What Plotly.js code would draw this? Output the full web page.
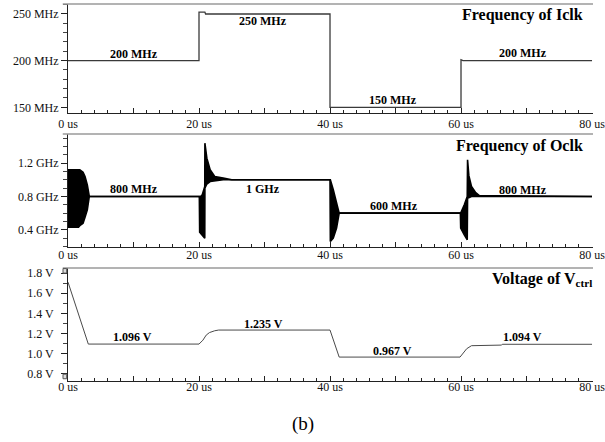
<!DOCTYPE html>
<html>
<head>
<meta charset="utf-8">
<script src="https://cdn.plot.ly/plotly-3.0.1.min.js"></script>
<style>html,body{margin:0;padding:0;background:#fff;}#chart{width:605px;height:442px;}</style>
</head>
<body>
<div id="chart"></div>
<script>
// ---- Panel 1: Frequency of Iclk (MHz) ----
const tIclk = [0, 20, 20, 20.9, 21, 40, 40, 60, 60, 60.3, 80];
const fIclk = [200, 200, 252, 252, 250, 250, 150, 150, 201, 200, 200];

// ---- Panel 2: Frequency of Oclk (GHz), oscillation envelope ----
const tOclk = [0, 1.6, 1.8, 2.3, 2.6, 2.95, 3.25, 20.05, 20.1, 20.5, 20.88, 20.9, 21.2, 21.7, 22.4, 23.7, 25,
               40.0, 40.05, 40.5, 41.0, 41.4, 59.9, 59.95, 60.5, 60.95, 61.0, 61.2, 61.6, 62.2, 62.8, 80];
const fOclkUpper = [1.12, 1.12, 1.12, 1.09, 1.04, 0.94, 0.80, 0.80, 0.79, 0.82, 0.92, 1.44, 1.26, 1.12, 1.04, 1.02, 1.00,
                    1.00, 1.00, 0.88, 0.74, 0.60, 0.60, 0.60, 0.70, 0.80, 1.24, 1.05, 0.92, 0.85, 0.81, 0.80];
const fOclkLower = [0.43, 0.43, 0.45, 0.48, 0.55, 0.64, 0.80, 0.80, 0.37, 0.34, 0.30, 0.90, 0.95, 0.98, 0.99, 1.00, 1.00,
                    1.00, 0.26, 0.30, 0.42, 0.60, 0.60, 0.42, 0.34, 0.28, 0.78, 0.79, 0.80, 0.80, 0.80, 0.80];

// ---- Panel 3: Voltage of Vctrl (V) ----
const tVctrl = [0, 3.1, 20.0, 20.6, 21.1, 21.6, 22.4, 23.0, 40.0, 41.4, 59.85, 60.35, 60.87, 61.6, 66.2, 66.3, 80];
const vVctrl = [1.71, 1.096, 1.096, 1.135, 1.185, 1.21, 1.228, 1.235, 1.235, 0.967, 0.967, 1.01, 1.05, 1.08, 1.086, 1.094, 1.094];

// ---- Tick labels ----
const xTickVals = [0, 10, 20, 30, 40, 50, 60, 70, 80];
const xTickText = ['0 us', ' ', '20 us', ' ', '40 us', ' ', '60 us', ' ', '80 us'];
const y1TickVals = [150, 200, 250];
const y1TickText = ['150 MHz', '200 MHz', '250 MHz'];
const y2TickVals = [0.4, 0.8, 1.2];
const y2TickText = ['0.4 GHz', '0.8 GHz', '1.2 GHz'];
const y3TickVals = [0.8, 1.0, 1.2, 1.4, 1.6, 1.8];
const y3TickText = ['0.8 V', '1.0 V', '1.2 V', '1.4 V', '1.6 V', '1.8 V'];

// ---- Value labels ----
const iclkLabels = [['200 MHz', 10, 207.5], ['250 MHz', 29.8, 242.5], ['150 MHz', 49.6, 157.5], ['200 MHz', 69.4, 208.5]];
const oclkLabels = [['800 MHz', 10, 0.89], ['1 GHz', 29.8, 0.89], ['600 MHz', 49.7, 0.69], ['800 MHz', 69.5, 0.88]];
const vctrlLabels = [['1.096 V', 9.9, 1.17], ['1.235 V', 29.8, 1.295], ['0.967 V', 49.6, 1.025], ['1.094 V', 69.4, 1.166]];

const FONT = '"Liberation Serif", "Times New Roman", serif';

const traces = [
  {x: tIclk, y: fIclk, xaxis: 'x', yaxis: 'y', mode: 'lines', line: {color: '#3a3a3a', width: 1.3}, hoverinfo: 'skip'},
  {x: tOclk, y: fOclkUpper, xaxis: 'x2', yaxis: 'y2', mode: 'lines', line: {color: '#000', width: 1.6}, hoverinfo: 'skip'},
  {x: tOclk, y: fOclkLower, xaxis: 'x2', yaxis: 'y2', mode: 'lines', line: {color: '#000', width: 1.6},
   fill: 'tonexty', fillcolor: '#000', hoverinfo: 'skip'},
  {x: tVctrl, y: vVctrl, xaxis: 'x3', yaxis: 'y3', mode: 'lines', line: {color: '#4a4a4a', width: 1}, hoverinfo: 'skip'}
];

function xAxis(anchor, standoff) {
  return {
    anchor: anchor, domain: [0, 1], range: [0, 80.15],
    tickmode: 'array', tickvals: xTickVals, ticktext: xTickText,
    ticks: 'inside', ticklen: 5, tickcolor: '#222', tickwidth: 1,
    minor: {tickmode: 'linear', tick0: 0, dtick: 2, ticks: 'inside', ticklen: 3, tickcolor: '#222', showgrid: false},
    showline: true, linecolor: '#222', linewidth: 1,
    showgrid: false, zeroline: false, ticklabeloverflow: 'allow',
    tickfont: {family: FONT, size: 12, color: '#111'}, ticklabelstandoff: standoff
  };
}
function yAxis(anchor, dom, rng, vals, text, mdt, standoff) {
  return {
    anchor: anchor, domain: dom, range: rng,
    tickmode: 'array', tickvals: vals, ticktext: text,
    ticks: 'outside', ticklen: 6, tickcolor: '#222', tickwidth: 1,
    minor: {tickmode: 'linear', tick0: 0, dtick: mdt, ticks: 'outside', ticklen: 4, tickcolor: '#444', showgrid: false},
    showline: true, linecolor: '#222', linewidth: 1,
    showgrid: false, zeroline: false, ticklabeloverflow: 'allow',
    tickfont: {family: FONT, size: 12, color: '#111'}, ticklabelstandoff: standoff
  };
}

const annotations = [];
function addLabels(list, xr, yr) {
  list.forEach(function (d) {
    annotations.push({text: '<b>' + d[0] + '</b>', x: d[1], y: d[2], xref: xr, yref: yr,
      showarrow: false, font: {family: FONT, size: 12, color: '#000'}, xanchor: 'center', yanchor: 'middle'});
  });
}
addLabels(iclkLabels, 'x', 'y');
addLabels(oclkLabels, 'x2', 'y2');
addLabels(vctrlLabels, 'x3', 'y3');

annotations.push({text: '<b>Frequency of Iclk</b>', xref: 'paper', yref: 'y domain', x: 0.985, y: 0.9,
  xanchor: 'right', yanchor: 'middle', showarrow: false, font: {family: FONT, size: 16, color: '#000'}});
annotations.push({text: '<b>Frequency of Oclk</b>', xref: 'paper', yref: 'y2 domain', x: 0.985, y: 0.894,
  xanchor: 'right', yanchor: 'middle', showarrow: false, font: {family: FONT, size: 16, color: '#000'}});
annotations.push({text: '<b>Voltage of V<sub>ctrl</sub></b>', xref: 'paper', yref: 'y3 domain', x: 1.002, y: 0.9,
  xanchor: 'right', yanchor: 'middle', showarrow: false, font: {family: FONT, size: 16, color: '#000'}});
annotations.push({text: '(b)', xref: 'paper', yref: 'paper', x: 0.4476, y: -0.114,
  xanchor: 'center', yanchor: 'middle', showarrow: false, font: {family: FONT, size: 19, color: '#000'}});

const shapes = [];
['y', 'y2', 'y3'].forEach(function (ya) {
  shapes.push({type: 'line', xref: 'paper', yref: ya + ' domain', x0: -0.01, x1: 1.0, y0: 1, y1: 1,
    line: {color: '#9a9a9a', width: 1.5}});
});
// small cursor boxes on the Vctrl axis
shapes.push({type: 'rect', xref: 'paper', yref: 'y3 domain', x0: -0.0095, x1: -0.0025, y0: 0.955, y1: 0.995,
  line: {color: '#555', width: 1}, fillcolor: '#ddd'});
shapes.push({type: 'rect', xref: 'paper', yref: 'y3 domain', x0: -0.0095, x1: -0.0025, y0: 0.02, y1: 0.06,
  line: {color: '#555', width: 1}, fillcolor: '#ddd'});

const layout = {
  width: 605, height: 442,
  margin: {l: 68, r: 12, t: 4, b: 61, pad: 0},
  paper_bgcolor: '#fff', plot_bgcolor: '#fff',
  showlegend: false,
  xaxis: xAxis('y', 0),
  xaxis2: Object.assign(xAxis('y2', -4), {matches: 'x'}),
  xaxis3: Object.assign(xAxis('y3', -5), {matches: 'x'}),
  yaxis: yAxis('x', [0.7109, 1], [143.9, 260.7], y1TickVals, y1TickText, 10, 0),
  yaxis2: yAxis('x2', [0.3546, 0.6552], [0.19, 1.55], y2TickVals, y2TickText, 0.1, 0),
  yaxis3: yAxis('x3', [0, 0.2997], [0.73, 1.85], y3TickVals, y3TickText, 0.1, 5),
  annotations: annotations,
  shapes: shapes
};

Plotly.newPlot('chart', traces, layout, {staticPlot: true, displayModeBar: false});
</script>
</body>
</html>
